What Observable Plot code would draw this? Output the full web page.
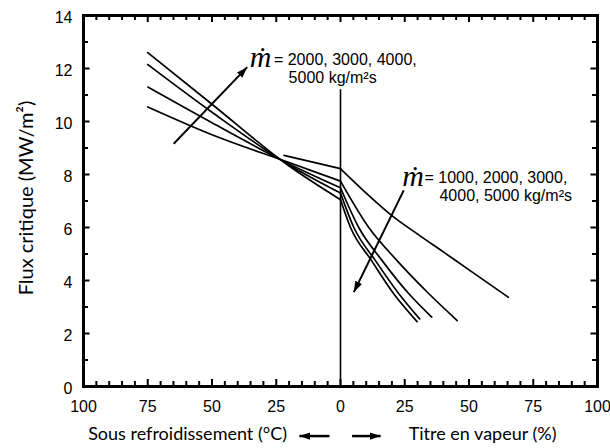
<!DOCTYPE html>
<html><head><meta charset="utf-8">
<script src="https://cdn.jsdelivr.net/npm/d3@7"></script>
<script src="https://cdn.jsdelivr.net/npm/@observablehq/plot@0.6"></script>
<style>body{margin:0;background:#fff} #chart svg{display:block}</style>
</head><body><div id="chart"></div>
<script>
// ---- Data ----
const massFlux = [1000, 2000, 3000, 4000, 5000]; // kg/m2s

// Subcooled side: subcooling (°C), drawn to the left of 0
const sub1000X = [22, 0];
const sub1000Y = [8.72, 8.22];
const subX = [75, 50, 20, 0];
const sub2000Y = [10.55, 9.5, 8.45, 7.75];
const sub3000Y = [11.3, 9.95, 8.4, 7.5];
const sub4000Y = [12.15, 10.35, 8.36, 7.3];
const sub5000Y = [12.6, 10.65, 8.32, 7.05];

// Quality side: vapour quality (%), drawn to the right of 0
const q1000X = [0, 10, 20, 30, 40, 50, 65.3];
const q1000Y = [8.22, 7.3, 6.45, 5.75, 5.08, 4.4, 3.37];
const q2000X = [0, 11, 22, 34.4, 45.4];
const q2000Y = [7.75, 6.0, 4.75, 3.5, 2.49];
const q3000X = [0, 7.1, 16.2, 26.6, 35.5];
const q3000Y = [7.5, 6.0, 4.75, 3.5, 2.62];
const q4000X = [0, 5.2, 13.6, 22.7, 30.8];
const q4000Y = [7.3, 6.0, 4.75, 3.5, 2.55];
const q5000X = [0, 3.9, 12.1, 20.7, 29.8];
const q5000Y = [7.05, 6.0, 4.75, 3.5, 2.45];

// Tick values
const xLabelTicks = [-100, -75, -50, -25, 0, 25, 50, 75, 100];
const xMajorTicks = [-75, -50, -25, 0, 25, 50, 75];
const xMinorTicks = d3.range(-95, 100, 5).filter(v => v % 25 !== 0);
const yLabelTicks = [0, 2, 4, 6, 8, 10, 12, 14];
const yMajorTicks = [2, 4, 6, 8, 10, 12];
const yMinorTicks = [1, 3, 5, 7, 9, 11, 13];

// Text
const yTitle = "Flux critique (MW/m²)";
const leftCaption = "Sous refroidissement (°C)";
const rightCaption = "Titre en vapeur (%)";
const annLeft1 = "= 2000, 3000, 4000,";
const annLeft2 = "5000 kg/m²s";
const annRight1 = "= 1000, 2000, 3000,";
const annRight2 = "4000, 5000 kg/m²s";
const mdot = "ṁ";

// ---- Build tables ----
const rows = [];
function addSeries(name, xs, ys, sign) {
  xs.forEach((x, i) => rows.push({series: name, x: sign * x, y: ys[i]}));
}
addSeries("s1000", sub1000X, sub1000Y, -1);
[sub2000Y, sub3000Y, sub4000Y, sub5000Y].forEach((ys, i) => addSeries("s" + massFlux[i + 1], subX, ys, -1));
[[q1000X, q1000Y], [q2000X, q2000Y], [q3000X, q3000Y], [q4000X, q4000Y], [q5000X, q5000Y]]
  .forEach(([xs, ys], i) => addSeries("q" + massFlux[i], xs, ys, 1));

const annArrows = [
  {x1: -64.9, y1: 9.16, x2: -36.3, y2: 12.05},
  {x1: 24.6, y1: 7.4, x2: 5.2, y2: 3.56}
];
const captionArrows = [
  {x1: -4.3, y1: -1.87, x2: -16, y2: -1.87},
  {x1: 4.5, y1: -1.87, x2: 15.6, y2: -1.87}
];

const W = 610, H = 448, mL = 83, mR = 13, mT = 15, mB = 62;
const fw = W - mL - mR, fh = H - mT - mB;
const tickFont = "'Liberation Sans', Arial, Helvetica, sans-serif";
const titleFont = "Lato, 'Open Sans', sans-serif";

const chart = Plot.plot({
  width: W, height: H,
  marginLeft: mL, marginRight: mR, marginTop: mT, marginBottom: mB,
  x: {domain: [-100, 100]},
  y: {domain: [0, 14]},
  style: {fontFamily: tickFont, fontSize: "16px", color: "black", background: "white", overflow: "visible"},
  marks: [
    Plot.axisX(xLabelTicks, {tickSize: 0, tickPadding: 14, tickFormat: d => Math.abs(d), fontSize: 16, label: null}),
    Plot.axisY(yLabelTicks, {tickSize: 0, tickPadding: 11, fontSize: 16, label: null, dy: 2}),
    // inward ticks: bottom & top
    Plot.ruleX(xMinorTicks, {insetTop: fh - 5, strokeWidth: 2}),
    Plot.ruleX(xMajorTicks, {insetTop: fh - 7, strokeWidth: 2}),
    Plot.ruleX(xMinorTicks, {insetBottom: fh - 5, strokeWidth: 2}),
    Plot.ruleX(xMajorTicks, {insetBottom: fh - 7, strokeWidth: 2}),
    // inward ticks: left & right
    Plot.ruleY(yMinorTicks, {insetRight: fw - 5, strokeWidth: 2}),
    Plot.ruleY(yMajorTicks, {insetRight: fw - 6.5, strokeWidth: 2}),
    Plot.ruleY(yMinorTicks, {insetLeft: fw - 5, strokeWidth: 2}),
    Plot.ruleY(yMajorTicks, {insetLeft: fw - 6.5, strokeWidth: 2}),
    Plot.frame({strokeWidth: 3}),
    // zero divider
    Plot.ruleX([0], {y1: 0, y2: 11.2, strokeWidth: 1.6}),
    // curves
    Plot.line(rows, {x: "x", y: "y", z: "series", curve: "monotone-x", stroke: "black", strokeWidth: 1.7}),
    // annotation arrows
    Plot.link(annArrows, {x1: "x1", y1: "y1", x2: "x2", y2: "y2", stroke: "black", strokeWidth: 2, markerEnd: "arrow"}),
    Plot.text([mdot], {x: -31.1, y: 12.42, fontFamily: "'Liberation Serif', 'DejaVu Serif', serif", fontStyle: "italic", fontSize: 30}),
    Plot.text([annLeft1], {x: -25.9, y: 12.34, textAnchor: "start", fontSize: 16}),
    Plot.text([annLeft2], {x: -20.2, y: 11.64, textAnchor: "start", fontSize: 16}),
    Plot.text([mdot], {x: 28.2, y: 7.92, fontFamily: "'Liberation Serif', 'DejaVu Serif', serif", fontStyle: "italic", fontSize: 30}),
    Plot.text([annRight1], {x: 32.7, y: 7.88, textAnchor: "start", fontSize: 16}),
    Plot.text([annRight2], {x: 38.5, y: 7.18, textAnchor: "start", fontSize: 16}),
    // axis title and captions
    Plot.text([yTitle], {frameAnchor: "left", dx: -57, dy: -3, rotate: -90, textAnchor: "middle", lineAnchor: "middle", fontFamily: titleFont, fontSize: 20}),
    Plot.text([leftCaption], {x: -59.5, frameAnchor: "bottom", dy: 48, lineAnchor: "middle", fontFamily: titleFont, fontSize: 18}),
    Plot.text([rightCaption], {x: 55.3, frameAnchor: "bottom", dy: 48, lineAnchor: "middle", fontFamily: titleFont, fontSize: 18}),
    Plot.link(captionArrows, {x1: "x1", y1: "y1", x2: "x2", y2: "y2", stroke: "black", strokeWidth: 2.5, markerEnd: "arrow"})
  ]
});

// filled arrowheads
chart.querySelectorAll("marker").forEach(m => {
  m.setAttribute("viewBox", "-11 -3.8 11 7.6");
  m.setAttribute("markerUnits", "userSpaceOnUse");
  m.setAttribute("markerWidth", "11");
  m.setAttribute("markerHeight", "7.6");
  m.setAttribute("refX", "0");
  m.setAttribute("refY", "0");
  m.setAttribute("orient", "auto");
  m.removeAttribute("fill");
  m.removeAttribute("stroke");
  m.innerHTML = '<path d="M-11,-3.8L0,0L-11,3.8Z" fill="black" stroke="none"/>';
});

document.getElementById("chart").appendChild(chart);
</script>
</body></html>
